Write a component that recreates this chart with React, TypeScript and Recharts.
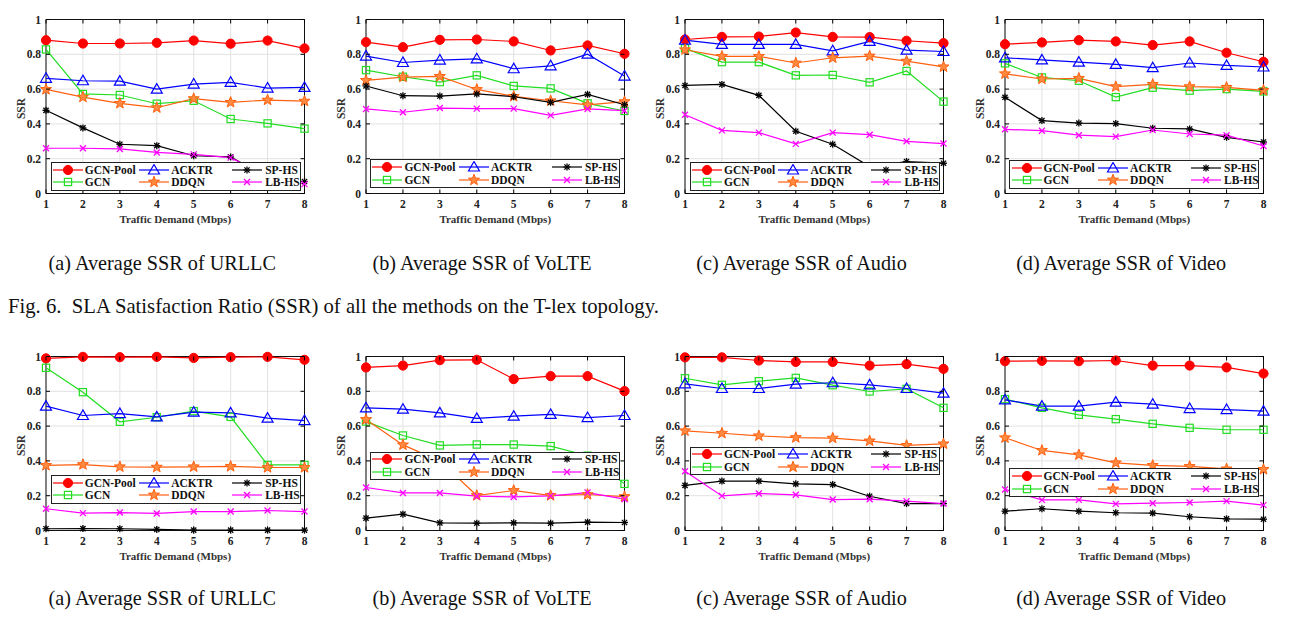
import React from "react";
import {
	CartesianGrid,
	Line,
	LineChart,
	ReferenceArea,
	XAxis,
	YAxis,
} from "recharts";

const xs = [1, 2, 3, 4, 5, 6, 7, 8];
const yTicks = [0, 0.2, 0.4, 0.6, 0.8, 1];
const seriesNames = ["GCN-Pool", "ACKTR", "GCN", "DDQN", "SP-HS", "LB-HS"];

// rows follow seriesNames order
const tlexUrllc = [
	[0.881, 0.862, 0.862, 0.866, 0.879, 0.861, 0.879, 0.834],
	[0.662, 0.648, 0.646, 0.6, 0.629, 0.639, 0.606, 0.61],
	[0.828, 0.572, 0.566, 0.516, 0.533, 0.428, 0.403, 0.373],
	[0.598, 0.554, 0.518, 0.493, 0.545, 0.524, 0.537, 0.531],
	[0.478, 0.377, 0.283, 0.275, 0.217, 0.21, 0.09, 0.069],
	[0.26, 0.26, 0.256, 0.236, 0.225, 0.206, 0.1, 0.054],
];
const tlexVolte = [
	[0.87, 0.841, 0.883, 0.885, 0.874, 0.822, 0.851, 0.803],
	[0.79, 0.753, 0.767, 0.774, 0.717, 0.734, 0.801, 0.675],
	[0.709, 0.671, 0.64, 0.679, 0.618, 0.604, 0.518, 0.474],
	[0.65, 0.669, 0.673, 0.598, 0.558, 0.533, 0.509, 0.528],
	[0.618, 0.562, 0.56, 0.572, 0.556, 0.524, 0.57, 0.51],
	[0.486, 0.467, 0.491, 0.488, 0.488, 0.449, 0.486, 0.476],
];
const tlexAudio = [
	[0.885, 0.9, 0.902, 0.925, 0.9, 0.899, 0.878, 0.864],
	[0.881, 0.857, 0.857, 0.857, 0.82, 0.874, 0.824, 0.816],
	[0.834, 0.755, 0.755, 0.679, 0.681, 0.639, 0.704, 0.528],
	[0.826, 0.788, 0.788, 0.75, 0.78, 0.79, 0.761, 0.728],
	[0.621, 0.627, 0.564, 0.358, 0.283, 0.155, 0.184, 0.174],
	[0.453, 0.363, 0.35, 0.285, 0.35, 0.338, 0.3, 0.287],
];
const tlexVideo = [
	[0.858, 0.868, 0.881, 0.874, 0.853, 0.874, 0.809, 0.757],
	[0.78, 0.768, 0.755, 0.742, 0.723, 0.75, 0.736, 0.727],
	[0.748, 0.667, 0.648, 0.554, 0.608, 0.591, 0.6, 0.587],
	[0.688, 0.658, 0.662, 0.614, 0.627, 0.614, 0.61, 0.593],
	[0.553, 0.419, 0.405, 0.402, 0.375, 0.371, 0.323, 0.296],
	[0.369, 0.361, 0.335, 0.327, 0.365, 0.342, 0.335, 0.273],
];
const otherUrllc = [
	[0.989, 0.998, 0.996, 0.998, 0.992, 0.996, 0.998, 0.981],
	[0.715, 0.661, 0.672, 0.653, 0.68, 0.676, 0.646, 0.632],
	[0.935, 0.795, 0.625, 0.651, 0.686, 0.653, 0.377, 0.377],
	[0.374, 0.379, 0.366, 0.364, 0.366, 0.368, 0.362, 0.362],
	[0.01, 0.011, 0.01, 0.006, 0.002, 0.002, 0.002, 0.002],
	[0.125, 0.1, 0.103, 0.098, 0.109, 0.109, 0.115, 0.109],
];
const otherVolte = [
	[0.937, 0.948, 0.979, 0.981, 0.87, 0.887, 0.887, 0.801],
	[0.705, 0.697, 0.676, 0.644, 0.657, 0.667, 0.649, 0.661],
	[0.626, 0.546, 0.489, 0.494, 0.494, 0.485, 0.43, 0.268],
	[0.638, 0.492, 0.4, 0.201, 0.23, 0.201, 0.207, 0.195],
	[0.071, 0.094, 0.044, 0.042, 0.044, 0.042, 0.048, 0.046],
	[0.247, 0.216, 0.216, 0.197, 0.193, 0.199, 0.218, 0.18],
];
const otherAudio = [
	[0.995, 0.995, 0.977, 0.969, 0.969, 0.948, 0.956, 0.929],
	[0.843, 0.816, 0.816, 0.841, 0.849, 0.837, 0.816, 0.789],
	[0.875, 0.837, 0.858, 0.877, 0.835, 0.799, 0.814, 0.705],
	[0.573, 0.559, 0.544, 0.534, 0.531, 0.515, 0.489, 0.498],
	[0.259, 0.284, 0.284, 0.268, 0.264, 0.197, 0.155, 0.155],
	[0.341, 0.199, 0.213, 0.205, 0.178, 0.18, 0.169, 0.155],
];
const otherVideo = [
	[0.973, 0.975, 0.973, 0.977, 0.948, 0.948, 0.937, 0.902],
	[0.751, 0.715, 0.715, 0.738, 0.726, 0.701, 0.695, 0.686],
	[0.755, 0.705, 0.665, 0.64, 0.613, 0.59, 0.579, 0.579],
	[0.533, 0.46, 0.435, 0.389, 0.374, 0.368, 0.354, 0.351],
	[0.111, 0.125, 0.111, 0.102, 0.1, 0.079, 0.067, 0.065],
	[0.236, 0.176, 0.176, 0.153, 0.157, 0.161, 0.169, 0.146],
];

const captions = [
	"(a) Average SSR of URLLC",
	"(b) Average SSR of VoLTE",
	"(c) Average SSR of Audio",
	"(d) Average SSR of Video",
];

const SERIF = '"Liberation Serif", "DejaVu Serif", serif';
const colors = ["#ff0000", "#0000ff", "#22dd22", "#ff6010", "#000000", "#ff00ff"];
const markers = ["circle", "triangle", "square", "star", "asterisk", "cross"];

// chart geometry (px, inside each chart)
const CH_W = 320;
const CH_H = 235;
const PL = 46;
const PT = 19.5;
const PW = 258.5;
const PH = 174;
const XAX_H = 30;

const Marker = ({ kind, cx, cy, color }: any) => {
	if (cx == null || cy == null) return null;
	switch (kind) {
		case "circle":
			return <circle cx={cx} cy={cy} r={4.6} fill={color} stroke={color} />;
		case "triangle":
			return (
				<polygon
					points={`${cx},${cy - 5.5} ${cx - 5.5},${cy + 4} ${cx + 5.5},${cy + 4}`}
					fill="none"
					stroke={color}
					strokeWidth={1.2}
				/>
			);
		case "square":
			return (
				<rect x={cx - 3.6} y={cy - 3.6} width={7.2} height={7.2} fill="none" stroke={color} strokeWidth={1.2} />
			);
		case "star": {
			const pts: string[] = [];
			for (let i = 0; i < 10; i++) {
				const r = i % 2 === 0 ? 5.8 : 2.4;
				const a = -Math.PI / 2 + (i * Math.PI) / 5;
				pts.push(`${cx + r * Math.cos(a)},${cy + r * Math.sin(a)}`);
			}
			return <polygon points={pts.join(" ")} fill="#ff8a40" stroke={color} strokeWidth={1} />;
		}
		case "asterisk":
			return (
				<g stroke={color} strokeWidth={1.3}>
					<line x1={cx - 3.5} y1={cy} x2={cx + 3.5} y2={cy} />
					<line x1={cx} y1={cy - 3.5} x2={cx} y2={cy + 3.5} />
					<line x1={cx - 2.6} y1={cy - 2.6} x2={cx + 2.6} y2={cy + 2.6} />
					<line x1={cx - 2.6} y1={cy + 2.6} x2={cx + 2.6} y2={cy - 2.6} />
				</g>
			);
		default:
			return (
				<g stroke={color} strokeWidth={1.3}>
					<line x1={cx - 3} y1={cy - 3} x2={cx + 3} y2={cy + 3} />
					<line x1={cx - 3} y1={cy + 3} x2={cx + 3} y2={cy - 3} />
				</g>
			);
	}
};

const XTick = ({ x, payload }: any) => (
	<g>
		<line x1={x} y1={PT + PH} x2={x} y2={PT + PH - 4} stroke="#000" />
		<line x1={x} y1={PT} x2={x} y2={PT + 4} stroke="#000" />
		<text x={x} y={PT + PH + 14} textAnchor="middle" fontFamily={SERIF} fontWeight="bold" fontSize={11.5} fill="#222">
			{payload.value}
		</text>
	</g>
);

const YTick = ({ y, payload }: any) => (
	<g>
		<line x1={PL} y1={y} x2={PL + 4} y2={y} stroke="#000" />
		<line x1={PL + PW - 4} y1={y} x2={PL + PW} y2={y} stroke="#000" />
		<text x={PL - 5} y={y + 4} textAnchor="end" fontFamily={SERIF} fontWeight="bold" fontSize={11.5} fill="#222">
			{String(payload.value)}
		</text>
	</g>
);

const XLabel = () => (
	<text x={PL + PW / 2} y={PT + PH + 29} textAnchor="middle" fontFamily={SERIF} fontWeight="bold" fontSize={11} fill="#333">
		Traffic Demand (Mbps)
	</text>
);

const YLabel = () => (
	<text
		x={21}
		y={PT + PH / 2 + 2}
		textAnchor="middle"
		fontFamily={SERIF}
		fontWeight="bold"
		fontSize={11.5}
		fill="#333"
		transform={`rotate(-90 21 ${PT + PH / 2 + 2})`}
		dominantBaseline="central"
	>
		SSR
	</text>
);

const legendRows = [
	[0, 1, 4],
	[2, 3, 5],
];
const legendCols = [
	{ line: 2.5, text: 34.5 },
	{ line: 89, text: 121 },
	{ line: 182, text: 215 },
];

const ChartLegend = ({ top }: { top: number }) => (
	<div
		style={{
			position: "absolute",
			left: PL + 4.5,
			top,
			width: 250,
			height: 28.5,
			boxSizing: "border-box",
			border: "1.3px solid #222",
			background: "#fff",
		}}
	>
		{legendRows.map((row, r) =>
			row.map((s, c) => (
				<div key={`${r}-${c}`}>
					<svg
						width={30}
						height={12}
						style={{ position: "absolute", left: legendCols[c].line - 1.3, top: 8 + r * 12.7 - 6 - 1.3 }}
					>
						<line x1={0} y1={6} x2={30} y2={6} stroke={colors[s]} strokeWidth={1.2} />
						<Marker kind={markers[s]} cx={15} cy={6} color={colors[s]} />
					</svg>
					<span
						style={{
							position: "absolute",
							left: legendCols[c].text - 1.3,
							top: 8 + r * 12.7 - 7 - 1.3,
							height: 14,
							lineHeight: "14px",
							fontFamily: SERIF,
							fontWeight: "bold",
							fontSize: 11.5,
							color: "#111",
							whiteSpace: "nowrap",
						}}
					>
						{seriesNames[s]}
					</span>
				</div>
			)),
		)}
	</div>
);

const Panel = ({ rows, left, top, legendTop }: { rows: number[][]; left: number; top: number; legendTop: number }) => {
	const data = xs.map((x, i) => {
		const point: Record<string, number> = { x };
		seriesNames.forEach((name, s) => {
			point[name] = rows[s][i];
		});
		return point;
	});
	const order = [0, 2, 1, 3, 4, 5];
	return (
		<div style={{ position: "absolute", left: left - PL, top, width: CH_W, height: CH_H }}>
			<LineChart
				width={CH_W}
				height={CH_H}
				data={data}
				margin={{ top: PT, left: PL - 30, right: CH_W - PL - PW, bottom: CH_H - PT - PH - XAX_H }}
			>
				<CartesianGrid stroke="#e2e2e2" strokeWidth={1} />
				<XAxis
					dataKey="x"
					type="number"
					domain={[1, 8]}
					ticks={xs}
					interval={0}
					height={XAX_H}
					axisLine={false}
					tickLine={false}
					tick={<XTick />}
					label={<XLabel />}
				/>
				<YAxis
					type="number"
					domain={[0, 1]}
					ticks={yTicks}
					interval={0}
					width={30}
					axisLine={false}
					tickLine={false}
					tick={<YTick />}
					label={<YLabel />}
				/>
				<ReferenceArea x1={1} x2={8} y1={0} y2={1} fill="none" stroke="#111" strokeWidth={1} />
				{order.map((s) => (
					<Line
						key={seriesNames[s]}
						dataKey={seriesNames[s]}
						stroke={colors[s]}
						strokeWidth={1.2}
						isAnimationActive={false}
						activeDot={false}
						dot={(p: any) => (
							<Marker key={`${seriesNames[s]}-${p.index}`} kind={markers[s]} cx={p.cx} cy={p.cy} color={colors[s]} />
						)}
					/>
				))}
			</LineChart>
			<ChartLegend top={legendTop} />
		</div>
	);
};

const plotLefts = [46, 365.7, 685.3, 1004.9];
const topSets = [tlexUrllc, tlexVolte, tlexAudio, tlexVideo];
const bottomSets = [otherUrllc, otherVolte, otherAudio, otherVideo];
const topLegendTops = [162, 159.3, 162, 160];
const bottomLegendTops = [138.5, 115.2, 110.2, 131.8];

const Caption = ({ text, center, y }: { text: string; center: number; y: number }) => (
	<div
		style={{
			position: "absolute",
			left: center - 160,
			top: y - 12,
			width: 320,
			height: 24,
			lineHeight: "24px",
			textAlign: "center",
			fontFamily: SERIF,
			fontSize: 20.2,
			color: "#111",
			whiteSpace: "nowrap",
		}}
	>
		{text}
	</div>
);

export default function App() {
	return (
		<div style={{ position: "absolute", left: 0, top: 0, width: 1310, height: 625, background: "#fff", overflow: "hidden" }}>
			{topSets.map((rows, i) => (
				<Panel key={`t${i}`} rows={rows} left={plotLefts[i]} top={0} legendTop={topLegendTops[i]} />
			))}
			{captions.map((c, i) => (
				<Caption key={`ct${i}`} text={c} center={plotLefts[i] + PW / 2 - 13} y={263} />
			))}
			<div
				style={{
					position: "absolute",
					left: 8,
					top: 294,
					height: 24,
					lineHeight: "24px",
					fontFamily: SERIF,
					fontSize: 20.7,
					color: "#111",
					whiteSpace: "pre",
				}}
			>
				{"Fig. 6.  SLA Satisfaction Ratio (SSR) of all the methods on the T-lex topology."}
			</div>
			{bottomSets.map((rows, i) => (
				<Panel key={`b${i}`} rows={rows} left={plotLefts[i]} top={336.5} legendTop={bottomLegendTops[i]} />
			))}
			{captions.map((c, i) => (
				<Caption key={`cb${i}`} text={c} center={plotLefts[i] + PW / 2 - 13} y={598} />
			))}
		</div>
	);
}
